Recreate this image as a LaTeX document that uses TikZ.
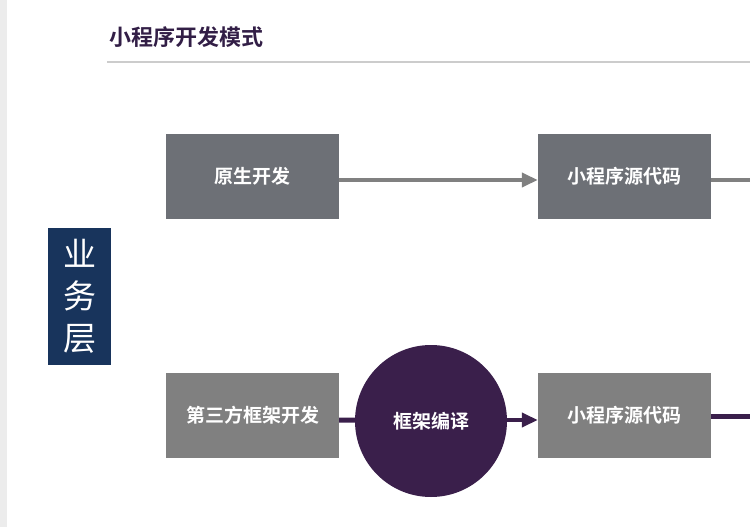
\documentclass[tikz,border=0pt]{standalone}
\usepackage{fontspec}
\usepackage{xcolor}
\setmainfont{Noto Sans CJK SC}
\newfontfamily\cjkbold{Noto Sans CJK SC Bold}
\usetikzlibrary{arrows.meta}
\definecolor{mpgray}{RGB}{109,112,118}
\definecolor{mplight}{RGB}{128,128,128}
\definecolor{mppurple}{RGB}{58,31,75}
\definecolor{mpnavy}{RGB}{24,52,92}
\definecolor{mptitle}{RGB}{50,30,70}

\begin{document}
\begin{tikzpicture}[x=1pt, y=-1pt,
    box/.style={minimum width=173pt, minimum height=85pt, inner sep=0pt, text=white, font=\cjkbold\fontsize{19}{19}\selectfont},
    flow/.style={line width=4pt, -{Triangle[length=16pt, width=14pt]}}]
    % Frame
    \useasboundingbox (0,0) rectangle (750,527);
    \fill[gray!15] (0,0) rectangle (7,527);

    % Title
    \node[anchor=west, text=mptitle, font=\cjkbold\fontsize{22}{22}\selectfont] (title) at (106,37) {小程序开发模式};
    \draw[gray!40, line width=1.5pt] (107,62) -- (750,62);

    % Layer label
    \node[fill=mpnavy, minimum width=63pt, minimum height=137pt, inner sep=0pt, text=white, align=center,
          font=\fontsize{33}{42}\selectfont] (layer) at (79.5,296.5) {业\\务\\层};

    % Native route
    \node[box, fill=mpgray] (native) at (252.5,176.5) {原生开发};
    \node[box, fill=mpgray] (srcA) at (624.5,176.5) {小程序源代码};
    \coordinate (endA) at (750,180);

    % Framework route
    \node[box, fill=mplight] (third) at (252.5,415.5) {第三方框架开发};
    \node[circle, fill=mppurple, minimum size=152pt, inner sep=0pt, text=white,
          font=\cjkbold\fontsize{19}{19}\selectfont] (compile) at (431,421) {框架编译};
    \node[box, fill=mplight] (srcB) at (624.5,415.5) {小程序源代码};
    \coordinate (endB) at (750,416);

    % Arrows
    \draw[flow, mplight] (native.east |- 0,180) -- (srcA.west |- 0,180);
    \draw[mplight, line width=4pt] (srcA.east |- 0,180) -- (endA);
    \draw[mppurple, line width=5pt] (third.east |- 0,420) -- (compile);
    \draw[flow, mppurple] (compile.east |- 0,420) -- (srcB.west |- 0,420);
    \draw[mppurple, line width=5pt] (srcB.east |- 0,416) -- (endB);
\end{tikzpicture}
\end{document}
